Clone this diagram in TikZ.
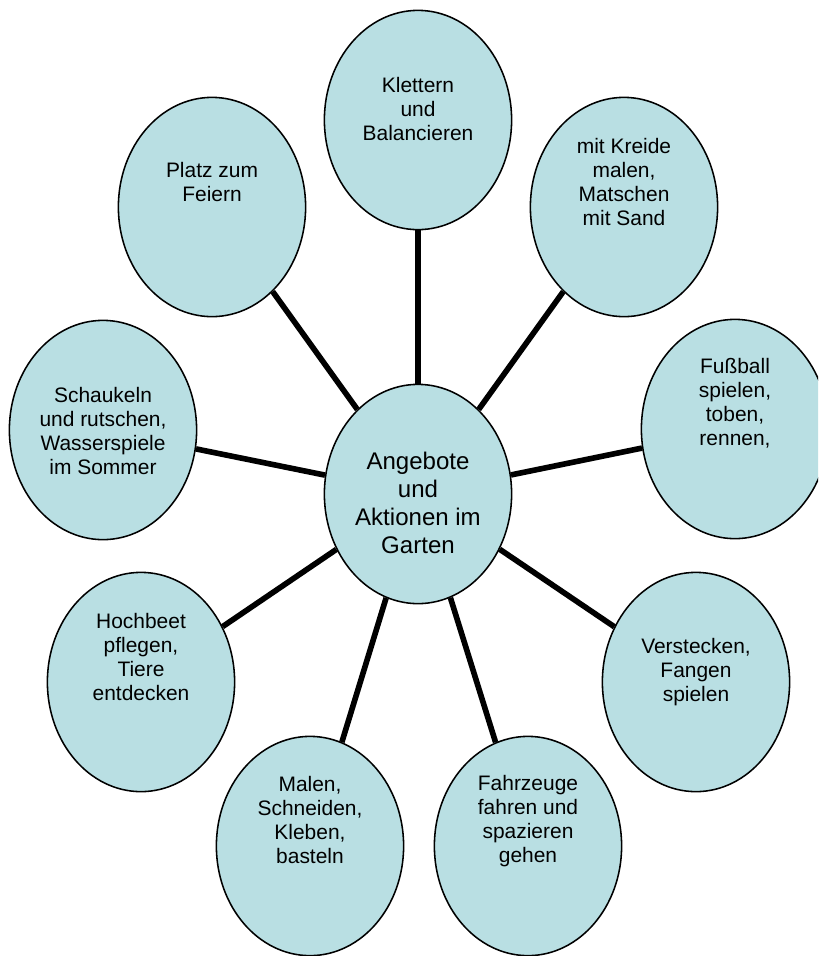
\documentclass[tikz,border=0pt]{standalone}
\usepackage{fontspec}
\setmainfont{Liberation Sans}
\usetikzlibrary{shapes}

\definecolor{bubblefill}{RGB}{185,223,227}

\tikzset{
  bubble/.style={ellipse, draw=black, line width=1.1pt, fill=bubblefill,
    minimum width=4.68cm, minimum height=5.48cm, inner sep=0pt},
  smalltext/.style={align=center, inner sep=0pt, font=\fontsize{14.9}{17.1}\selectfont},
  bigtext/.style={align=center, inner sep=0pt, font=\fontsize{17.1}{19.9}\selectfont},
  link/.style={line width=4pt, black}
}

\begin{document}
\begin{tikzpicture}[x=0.025cm, y=-0.025cm]
  \clip (0,0) rectangle (818,956);

  \node[bubble] (mitte) at (418,494) {};
  \node[bigtext, anchor=north] (mitte-text) at (418,452) {Angebote\\und\\Aktionen im\\Garten};

  % satellites: name / x / y / text top / text
  \foreach \name / \x / \y / \top / \lab in {
      klettern/418/120/77/{Klettern\\und\\Balancieren},
      platz/212/207/162/{Platz zum\\Feiern},
      kreide/624/207/138/{mit Kreide\\malen,\\Matschen\\mit Sand},
      schaukeln/103/430/387/{Schaukeln\\und rutschen,\\Wasserspiele\\im Sommer},
      fussball/735/429/358/{Fußball\\spielen,\\toben,\\rennen,},
      hochbeet/141/682/613/{Hochbeet\\pflegen,\\Tiere\\entdecken},
      verstecken/696/682/638/{Verstecken,\\Fangen\\spielen},
      malen/310/846/776/{Malen,\\Schneiden,\\Kleben,\\basteln},
      fahrzeuge/528/846/775/{Fahrzeuge\\fahren und\\spazieren\\gehen}} {
    \node[bubble] (\name) at (\x,\y) {};
    \node[smalltext, anchor=north] (\name-text) at (\x,\top) {\lab};
    \draw[link] (mitte) -- (\name);
  }
\end{tikzpicture}
\end{document}
